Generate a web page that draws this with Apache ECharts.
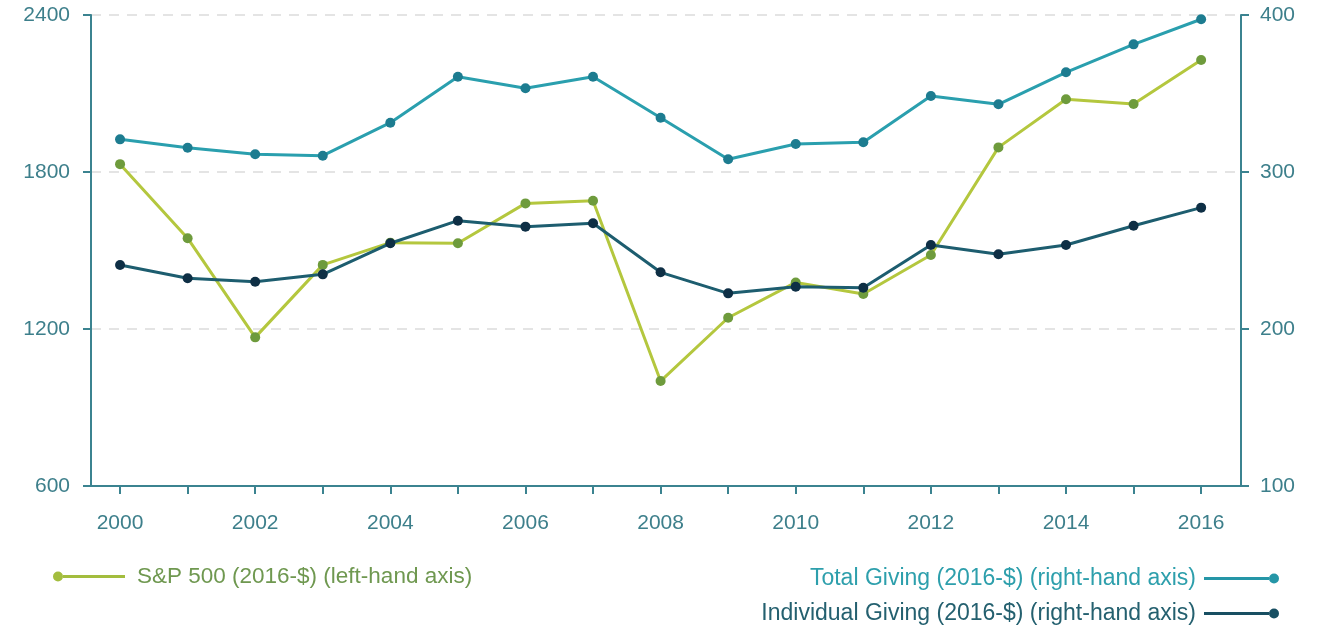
<!DOCTYPE html>
<html>
<head>
<meta charset="utf-8">
<script src="https://cdn.jsdelivr.net/npm/echarts@6/dist/echarts.min.js"></script>
<style>
html,body{margin:0;padding:0;background:#fff;}
#chart{width:1322px;height:627px;}
</style>
</head>
<body>
<div id="chart"></div>
<script>
const years = [2000,2001,2002,2003,2004,2005,2006,2007,2008,2009,2010,2011,2012,2013,2014,2015,2016];
const xLabelYears = [2000,2002,2004,2006,2008,2010,2012,2014,2016];
const sp500 = [1830,1547,1168,1445,1530,1528,1680,1690,1001,1243,1378,1334,1483,1894,2078,2060,2228];
const totalGiving = [320.8,315.5,311.3,310.4,331.4,360.7,353.3,360.7,334.6,308.1,317.8,318.9,348.4,343.1,363.5,381.3,397.3];
const individualGiving = [240.8,232.3,230.1,234.8,254.6,269,265.2,267.3,236.1,222.7,226.9,226.3,253.5,247.6,253.5,265.8,277.3];
const leftTicks = [600,1200,1800,2400];
const rightTicks = [100,200,300,400];
const names = ['S&P 500 (2016-$) (left-hand axis)','Total Giving (2016-$) (right-hand axis)','Individual Giving (2016-$) (right-hand axis)'];

const axisColor = '#3b8390';
const labelColor = '#3d7f8b';
const font = 'Liberation Sans, Arial, sans-serif';

const pairs = arr => years.map((y,i)=>[y,arr[i]]);

// legend icons: line with a dot at one end (no overlap between subpaths)
const iconLeft = 'path://M0,5 A5,5 0 1,1 10,5 A5,5 0 1,1 0,5 Z M10,3.6 H72 V6.4 H10 Z';
const iconRight = 'path://M0,3.6 H65 V6.4 H0 Z M65,5 A5,5 0 1,1 75,5 A5,5 0 1,1 65,5 Z';

const chart = echarts.init(document.getElementById('chart'), null, {renderer:'canvas'});
chart.setOption({
  animation:false,
  backgroundColor:'#fff',
  grid:{left:91,right:81,top:15,bottom:141,containLabel:false},
  legend:[
    {left:48,top:560,itemWidth:72,itemHeight:10,
     itemStyle:{borderWidth:0},
     textStyle:{fontFamily:font,fontSize:22.5,color:'#6f9850',padding:[0,0,0,7]},
     data:[{name:names[0],icon:iconLeft,itemStyle:{color:'#a3bd3e'}}]},
    {right:38,top:562,align:'right',itemWidth:75,itemHeight:10,
     itemStyle:{borderWidth:0},
     textStyle:{fontFamily:font,fontSize:23,color:'#2d9fac',padding:[0,3,0,0]},
     data:[{name:names[1],icon:iconRight,itemStyle:{color:'#2596a7'}}]},
    {right:38,top:597,align:'right',itemWidth:75,itemHeight:10,
     itemStyle:{borderWidth:0},
     textStyle:{fontFamily:font,fontSize:23,color:'#24606f',padding:[0,3,0,0]},
     data:[{name:names[2],icon:iconRight,itemStyle:{color:'#184f62'}}]}
  ],
  xAxis:{
    type:'value',min:1999.57,max:2016.59,
    axisLine:{show:true,lineStyle:{color:axisColor,width:2}},
    axisTick:{show:true,customValues:years,length:8,lineStyle:{color:axisColor,width:2}},
    axisLabel:{customValues:xLabelYears,margin:27,fontFamily:font,fontSize:21,color:labelColor,formatter:v=>String(v)},
    splitLine:{show:false}
  },
  yAxis:[
    {type:'value',position:'left',min:600,max:2400,interval:600,
     axisLine:{show:true,lineStyle:{color:axisColor,width:2}},
     axisTick:{show:true,length:8,lineStyle:{color:axisColor,width:2}},
     axisLabel:{margin:21,fontFamily:font,fontSize:21,color:labelColor,customValues:leftTicks,formatter:v=>String(v)},
     splitLine:{show:true,lineStyle:{color:'#dcdcdc',type:[10,8],width:1.5}}},
    {type:'value',position:'right',min:100,max:400,interval:100,
     axisLine:{show:true,lineStyle:{color:axisColor,width:2}},
     axisTick:{show:true,length:8,lineStyle:{color:axisColor,width:2}},
     axisLabel:{margin:19,fontFamily:font,fontSize:21,color:labelColor,customValues:rightTicks,formatter:v=>String(v)},
     splitLine:{show:false}}
  ],
  series:[
    {name:names[0],type:'line',yAxisIndex:0,data:pairs(sp500),
     symbol:'circle',symbolSize:10,lineStyle:{color:'#b4c73e',width:3},itemStyle:{color:'#6e9b3c'},z:2},
    {name:names[1],type:'line',yAxisIndex:1,data:pairs(totalGiving),
     symbol:'circle',symbolSize:10,lineStyle:{color:'#2a9fae',width:3},itemStyle:{color:'#1d7c90'},z:3},
    {name:names[2],type:'line',yAxisIndex:1,data:pairs(individualGiving),
     symbol:'circle',symbolSize:10,lineStyle:{color:'#1d5d6f',width:3},itemStyle:{color:'#0e2f45'},z:4}
  ]
});
</script>
</body>
</html>
